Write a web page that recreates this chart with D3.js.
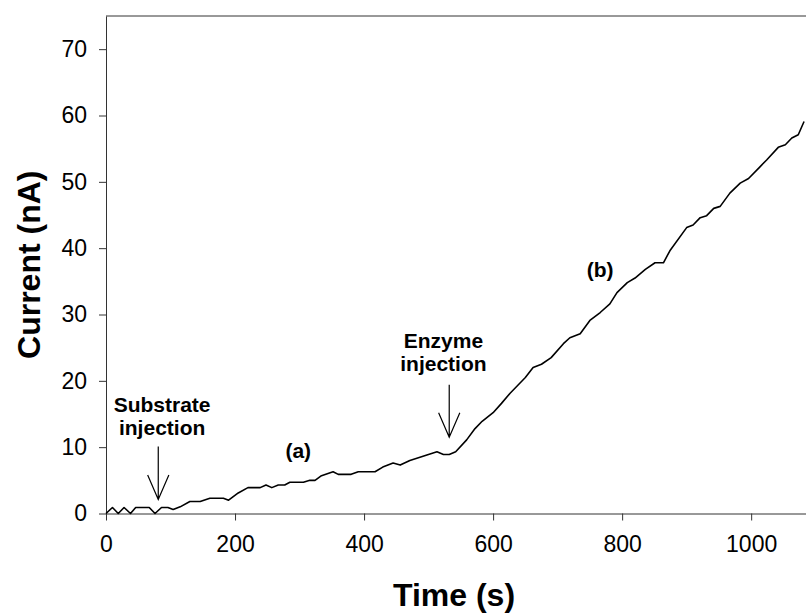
<!DOCTYPE html>
<html>
<head>
<meta charset="utf-8">
<script src="https://cdn.jsdelivr.net/npm/d3@7"></script>
<style>
  body { margin: 0; background: #fff; }
  svg { display: block; font-family: Arial, "Liberation Sans", sans-serif; }
</style>
</head>
<body>
<svg id="chart"></svg>
<script>
  const width = 806;
  const height = 613;

  // time (s) and current (nA)
  const times = [0, 10, 19, 28, 38, 46, 67, 76, 86, 96, 104, 115, 130, 146, 161, 182, 190, 205, 220, 239,
    248, 257, 267, 277, 285, 306, 316, 324, 334, 352, 360, 380, 391, 417, 429, 445, 456, 471, 513, 523,
    532, 542, 559, 572, 583, 600, 613, 626, 638, 650, 662, 675, 690, 709, 719, 735, 750, 766, 781, 792,
    808, 820, 836, 851, 864, 874, 900, 910, 921, 931, 942, 952, 967, 983, 996, 1014, 1024, 1042, 1053, 1063,
    1073, 1082];
  const current = [0, 0.9, 0, 0.9, 0, 0.9, 0.9, 0, 0.9, 0.9, 0.6, 1.0, 1.8, 1.8, 2.3, 2.3, 2.0, 3.1, 3.9, 3.9,
    4.3, 3.9, 4.3, 4.3, 4.7, 4.7, 5.0, 5.0, 5.7, 6.3, 5.9, 5.9, 6.3, 6.3, 7.0, 7.6, 7.3, 8.0, 9.3, 8.9,
    8.9, 9.3, 11.1, 12.8, 13.9, 15.2, 16.6, 18.1, 19.3, 20.5, 22.0, 22.5, 23.5, 25.6, 26.5, 27.1, 29.1, 30.3, 31.6, 33.3,
    34.8, 35.5, 36.8, 37.8, 37.8, 39.6, 43.1, 43.5, 44.6, 44.9, 46.0, 46.3, 48.3, 49.8, 50.5, 52.3, 53.3, 55.2, 55.6, 56.6,
    57.1, 59.1];

  const xTicks = [0, 200, 400, 600, 800, 1000];
  const yTicks = [0, 10, 20, 30, 40, 50, 60, 70];

  // injection arrows: time, top and tip (nA)
  const arrowTimes = [81, 532];
  const arrowTop = [10.1, 19.4];
  const arrowTip = [2.1, 11.5];

  const labelLines = [["Substrate", "injection"], ["Enzyme", "injection"], ["(a)"], ["(b)"]];
  const labelTimes = [87, 523, 298, 766];
  const labelValues = [15.3, 25.0, 8.4, 35.6];

  const margin = {top: 16, right: 0, bottom: 99.5, left: 106};
  const svg = d3.select('#chart').attr('width', width).attr('height', height);

  const x = d3.scaleLinear().domain([0, 1085]).range([margin.left, width - margin.right]);
  const y = d3.scaleLinear().domain([0, 75]).range([height - margin.bottom, margin.top]);

  // frame line on top
  svg.append('line')
    .attr('x1', x(0)).attr('x2', width)
    .attr('y1', y(75)).attr('y2', y(75))
    .attr('stroke', '#333').attr('stroke-width', 1);

  const xAxis = svg.append('g')
    .attr('transform', `translate(0,${y(0)})`)
    .call(d3.axisBottom(x).tickValues(xTicks).tickFormat(d3.format('d'))
      .tickSize(7).tickSizeOuter(0).tickPadding(15));
  const yAxis = svg.append('g')
    .attr('transform', `translate(${x(0)},0)`)
    .call(d3.axisLeft(y).tickValues(yTicks).tickSize(7).tickSizeOuter(0).tickPadding(12));

  [xAxis, yAxis].forEach(a => {
    a.select('.domain').attr('stroke', '#333');
    a.selectAll('.tick line').attr('stroke', '#333');
    a.selectAll('text').attr('font-size', 23).attr('fill', '#000')
      .attr('font-family', 'Arial, "Liberation Sans", sans-serif');
  });

  const line = d3.line().x((d, i) => x(times[i])).y(d => y(d));
  svg.append('path')
    .datum(current)
    .attr('d', line)
    .attr('fill', 'none')
    .attr('stroke', '#000')
    .attr('stroke-width', 1.6)
    .attr('stroke-linejoin', 'round');

  // arrows
  arrowTimes.forEach((t, i) => {
    const ax = x(t), top = y(arrowTop[i]), tip = y(arrowTip[i]);
    svg.append('path')
      .attr('d', `M${ax},${top}L${ax},${tip}M${ax - 10.6},${tip - 24.5}L${ax},${tip}L${ax + 10.6},${tip - 24.5}`)
      .attr('fill', 'none').attr('stroke', '#000').attr('stroke-width', 1.2);
  });

  labelLines.forEach((lines, i) => {
    const t = svg.append('text')
      .attr('x', x(labelTimes[i]))
      .attr('y', y(labelValues[i]))
      .attr('text-anchor', 'middle')
      .attr('font-weight', 'bold')
      .attr('font-size', 21);
    lines.forEach((s, j) => {
      t.append('tspan').attr('x', x(labelTimes[i])).attr('dy', j === 0 ? 0 : 23).text(s);
    });
  });

  svg.append('text')
    .attr('x', (x(0) + width) / 2 - 2)
    .attr('y', 606)
    .attr('text-anchor', 'middle')
    .attr('font-weight', 'bold')
    .attr('font-size', 32)
    .text('Time (s)');

  svg.append('text')
    .attr('transform', `translate(40,${(y(0) + y(75)) / 2}) rotate(-90)`)
    .attr('text-anchor', 'middle')
    .attr('font-weight', 'bold')
    .attr('font-size', 32)
    .text('Current (nA)');
</script>
</body>
</html>
